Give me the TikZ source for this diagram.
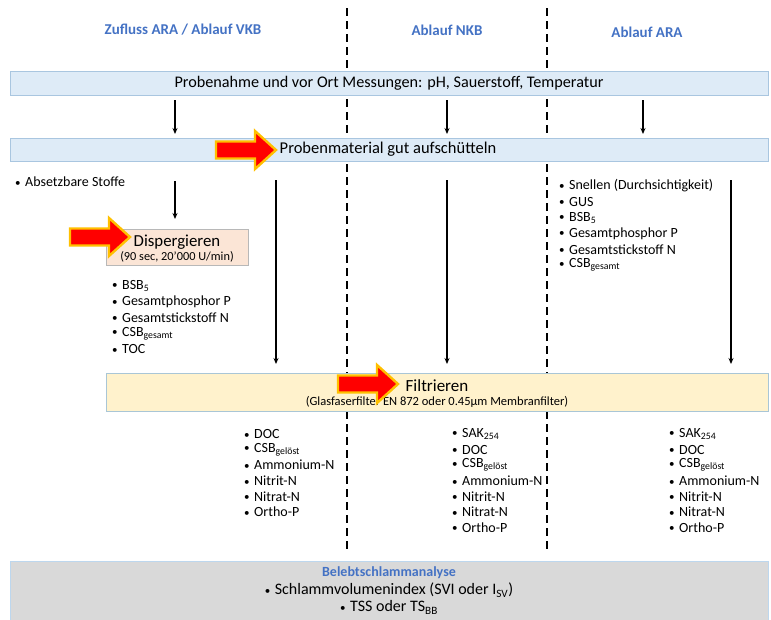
\documentclass[tikz,border=0pt]{standalone}
\usepackage{fontspec}
\setmainfont{Carlito}
\usetikzlibrary{arrows.meta}
\definecolor{hdr}{HTML}{4472C4}
\definecolor{bluefill}{HTML}{DEEBF7}
\definecolor{blueline}{HTML}{A9C6E0}
\definecolor{peach}{HTML}{FBE5D6}
\definecolor{peachline}{HTML}{B8B8B8}
\definecolor{cream}{HTML}{FFF2CC}
\definecolor{creamline}{HTML}{A9C6D6}
\definecolor{greyfill}{HTML}{D9D9D9}
\definecolor{greyline}{HTML}{BDD7EE}
\definecolor{arrowor}{HTML}{FFC000}
\tikzset{
  header/.style={font=\bfseries\fontsize{15}{18}\selectfont, text=hdr, inner sep=0},
  band/.style={draw=blueline, fill=bluefill, line width=0.8pt, minimum width=758pt, inner sep=0},
  item/.style={anchor=west, inner sep=0, font=\fontsize{14}{16}\selectfont},
  conn/.style={line width=1.2pt, -{Stealth[length=6pt,width=5pt]}},
  sep/.style={line width=1.6pt, dash pattern=on 8pt off 5pt},
  redarr/.pic={\path[fill=red, draw=arrowor, line width=2.4pt, line join=miter]
    (0,0) -- (-21,-19) -- (-21,-8.5) -- (-60,-8.5) -- (-60,8.5) -- (-21,8.5) -- (-21,19) -- cycle;}
}
\newcommand{\bul}{\raisebox{0.5pt}{\fontsize{11}{11}\selectfont\textbullet}\hspace{4.5pt}}
\begin{document}
\begin{tikzpicture}[x=1pt,y=-1pt]
\useasboundingbox (0,0) rectangle (771,619);
% separators
\coordinate (s1t) at (347,8); \coordinate (s1b) at (347,552);
\coordinate (s2t) at (547,8); \coordinate (s2b) at (547,552);
\draw[sep] (s1t) -- (s1b);
\draw[sep] (s2t) -- (s2b);
% headers
\node[header] (h1) at (183,30) {Zufluss ARA / Ablauf VKB};
\node[header] (h2) at (447,30) {Ablauf NKB};
\node[header] (h3) at (647,32) {Ablauf ARA};
% bands
\node[band, minimum height=24pt, font=\fontsize{16.2}{18}\selectfont] (probe) at (389,83) {Probenahme und vor Ort Messungen: pH, Sauerstoff, Temperatur};
\node[band, minimum height=23pt, font=\fontsize{16.5}{18}\selectfont] (shake) at (389,149.5) {\hspace*{-2pt}Probenmaterial gut aufschütteln};
% arrows band1 -> band2
\foreach \x [count=\i] in {175,447,643}{
  \coordinate (u\i s) at (\x,100); \coordinate (u\i e) at (\x,134);
  \draw[conn] (u\i s) -- (u\i e);
}
% Absetzbare Stoffe
\node[item] (abs) at (15,182) {\bul Absetzbare Stoffe};
% arrow to Dispergieren
\coordinate (d1s) at (175,181); \coordinate (d1e) at (175,219);
\draw[conn] (d1s) -- (d1e);
% Dispergieren box
\node[draw=peachline, fill=peach, line width=0.8pt, minimum width=142pt, minimum height=36pt, inner sep=0] (disp) at (177,247) {};
\node[inner sep=0, font=\fontsize{16.8}{17}\selectfont] (dispt) at (177,242) {Dispergieren};
\node[inner sep=0, font=\fontsize{12.3}{13}\selectfont] (disps) at (177,257) {(90 sec, 20’000 U/min)};
% long arrows to Filtrieren
\foreach \x [count=\i] in {276,447,731}{
  \coordinate (v\i s) at (\x,180); \coordinate (v\i e) at (\x,364);
  \draw[conn] (v\i s) -- (v\i e);
}
% list after Dispergieren
\foreach \t [count=\i] in {BSB\textsubscript{5}, Gesamtphosphor P, Gesamtstickstoff N, CSB\textsubscript{gesamt}, TOC}
  \node[item] (la\i) at (112,{286+15.8*(\i-1)}) {\bul\t};
% right list
\foreach \t [count=\i] in {Snellen (Durchsichtigkeit), GUS, BSB\textsubscript{5}, Gesamtphosphor P, Gesamtstickstoff N, CSB\textsubscript{gesamt}}
  \node[item] (lr\i) at (559,{186+15.8*(\i-1)}) {\bul\t};
% Filtrieren box
\node[draw=creamline, fill=cream, line width=0.8pt, minimum width=662pt, minimum height=38pt, inner sep=0] (filt) at (437,392) {};
\node[inner sep=0, font=\fontsize{17}{18}\selectfont] (filtt) at (437,386) {Filtrieren};
\node[inner sep=0, font=\fontsize{12.5}{13}\selectfont] (filts) at (437,402) {(Glasfaserfilter EN 872 oder 0.45µm Membranfilter)};
% lists after filtration
\foreach \t [count=\i] in {DOC, CSB\textsubscript{gelöst}, Ammonium-N, Nitrit-N, Nitrat-N, Ortho-P}
  \node[item] (fa\i) at (244,{434+15.6*(\i-1)}) {\bul\t};
\foreach \t [count=\i] in {SAK\textsubscript{254}, DOC, CSB\textsubscript{gelöst}, Ammonium-N, Nitrit-N, Nitrat-N, Ortho-P}
  \node[item] (fb\i) at (452,{434+15.6*(\i-1)}) {\bul\t};
\foreach \t [count=\i] in {SAK\textsubscript{254}, DOC, CSB\textsubscript{gelöst}, Ammonium-N, Nitrit-N, Nitrat-N, Ortho-P}
  \node[item] (fc\i) at (669,{434+15.6*(\i-1)}) {\bul\t};
% red arrows
\pic at (276,150) {redarr};
\pic at (130,237) {redarr};
\pic at (398,384) {redarr};
% bottom box
\node[draw=greyline, fill=greyfill, line width=0.8pt, minimum width=758pt, minimum height=70pt, inner sep=0, anchor=north] (bsa) at (389,561) {};
\node[header, font=\bfseries\fontsize{14}{16}\selectfont] (bsat) at (389,573) {Belebtschlammanalyse};
\node[inner sep=0, font=\fontsize{16}{18}\selectfont] (bsa1) at (389,590) {\bul Schlammvolumenindex (SVI oder I\textsubscript{SV})};
\node[inner sep=0, font=\fontsize{16}{18}\selectfont] (bsa2) at (389,607.5) {\bul TSS oder TS\textsubscript{BB}};
\end{tikzpicture}
\end{document}
